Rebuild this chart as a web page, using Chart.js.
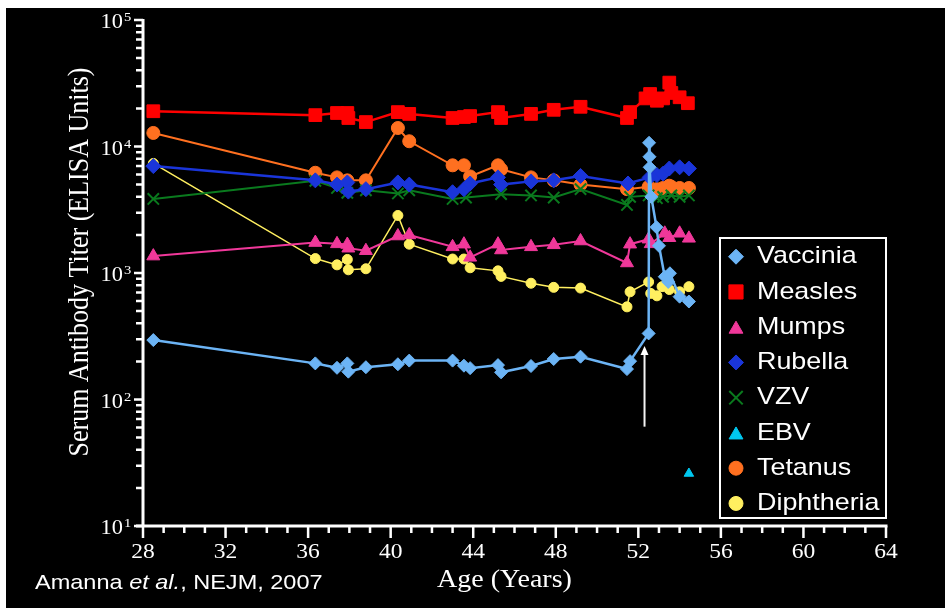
<!DOCTYPE html>
<html>
<head>
<meta charset="utf-8">
<script src="https://cdn.jsdelivr.net/npm/chart.js@4.4.0/dist/chart.umd.min.js"></script>
<style>
  html, body { margin: 0; padding: 0; background: #fff; }
  #wrap { position: relative; width: 951px; height: 616px; }
</style>
</head>
<body>
<div id="wrap"><canvas id="myChart"></canvas></div>
<script>
// series (age in years, titer in ELISA units)
const seriesNames = ["Vaccinia", "Measles", "Mumps", "Rubella", "VZV", "EBV", "Tetanus", "Diphtheria"];

const vacciniaAge = [28.5, 36.35, 37.4, 37.9, 37.95, 38.8, 40.35, 40.9, 43.0, 43.55, 43.85, 45.2, 45.35, 46.8, 47.9, 49.2, 51.45, 51.6,
  52.5, 52.52, 52.54, 52.55, 52.63, 52.88, 53.0, 53.28, 53.45, 53.53, 54.0, 54.45];
const vacciniaTiter = [295, 193, 178, 193, 166, 180, 190, 203, 203, 185, 177, 187, 164, 184, 209, 218, 174, 201,
  333, 10700, 8300, 6850, 4000, 2300, 1640, 935, 850, 995, 650, 595];

const measlesAge = [28.5, 36.35, 37.4, 37.9, 37.95, 38.8, 40.35, 40.9, 43.0, 43.55, 43.85, 45.2, 45.35, 46.8, 47.9, 49.2, 51.45, 51.6,
  52.35, 52.57, 52.9, 53.2, 53.5, 53.6, 54.0, 54.4];
const measlesTiter = [19000, 17700, 18400, 18400, 16800, 15600, 18700, 18100, 16800, 17100, 17400, 18700, 16800, 18100, 19500, 20600, 16800, 18700,
  24000, 26000, 23000, 24000, 32000, 26500, 24500, 22000];

const mumpsAge = [28.5, 36.35, 37.4, 37.9, 37.95, 38.8, 40.35, 40.9, 43.0, 43.55, 43.85, 45.2, 45.35, 46.8, 47.9, 49.2, 51.45, 51.6,
  52.5, 52.6, 53.28, 53.5, 54.0, 54.45];
const mumpsTiter = [1360, 1740, 1700, 1680, 1570, 1500, 1960, 2000, 1610, 1690, 1330, 1690, 1520, 1610, 1670, 1790, 1200, 1690,
  1850, 1700, 2060, 1900, 2060, 1880];

const rubellaAge = [28.5, 36.35, 37.4, 37.9, 37.95, 38.8, 40.35, 40.9, 43.0, 43.55, 43.85, 45.2, 45.35, 46.8, 47.9, 49.2, 51.5,
  52.55, 52.9, 53.2, 53.5, 54.0, 54.45];
const rubellaTiter = [7000, 5400, 5000, 5200, 4400, 4600, 5200, 5000, 4350, 4600, 5100, 5700, 5000, 5300, 5400, 5850, 5100,
  5700, 5950, 6100, 6700, 6850, 6700];

const vzvAge = [28.5, 36.35, 37.4, 37.9, 38.8, 40.35, 40.9, 43.0, 43.65, 45.35, 46.8, 47.9, 49.2, 51.45, 51.6,
  52.5, 52.9, 53.2, 53.6, 54.0, 54.45];
const vzvTiter = [3850, 5350, 4700, 4300, 4500, 4250, 4500, 3850, 3950, 4200, 4100, 3950, 4600, 3450, 4000,
  4100, 3900, 4000, 4100, 4000, 4100];

const ebvAge = [54.45];
const ebvTiter = [26];

const tetanusAge = [28.5, 36.35, 37.4, 37.9, 38.8, 40.35, 40.9, 43.0, 43.55, 43.85, 45.2, 45.35, 46.8, 47.9, 49.2, 51.45,
  52.5, 52.65, 52.9, 53.2, 53.5, 53.6, 54.0, 54.45];
const tetanusTiter = [12800, 6200, 5700, 5400, 5400, 14000, 11000, 7100, 7100, 5800, 7100, 6600, 5700, 5400, 5000, 4600,
  4800, 4500, 4600, 4700, 4900, 4800, 4700, 4700];

const diphtheriaAge = [28.5, 36.35, 37.4, 37.9, 37.95, 38.8, 40.35, 40.9, 43.0, 43.55, 43.85, 45.2, 45.35, 46.8, 47.9, 49.2, 51.45, 51.6,
  52.5, 52.6, 52.9, 53.15, 53.5, 54.0, 54.45];
const diphtheriaTiter = [7350, 1300, 1160, 1280, 1060, 1080, 2850, 1690, 1290, 1290, 1100, 1040, 940, 830, 770, 760, 540, 710,
  850, 690, 660, 780, 740, 710, 780];

const xTicks = [28, 32, 36, 40, 44, 48, 52, 56, 60, 64];
const yTicks = [10, 100, 1000, 10000, 100000];
const arrowAge = 52.3, arrowFrom = 61, arrowTo = 265;

const SX = 1.12; // slide text is a little stretched sideways

function pts(ages, titers) {
  return ages.map((a, i) => ({ x: a, y: titers[i] }));
}

function series(i, ages, titers, color, style, radius, lineW) {
  return {
    label: seriesNames[i],
    data: pts(ages, titers),
    showLine: lineW > 0,
    borderColor: color,
    backgroundColor: color,
    pointBackgroundColor: color,
    pointBorderColor: color,
    pointStyle: style,
    pointRadius: radius,
    pointHoverRadius: radius,
    pointBorderWidth: style === "crossRot" ? 2 : 1,
    borderWidth: lineW,
    tension: 0,
    clip: false
  };
}

const datasets = [
  series(0, vacciniaAge, vacciniaTiter, "#6cb4f5", "rectRot", 6.5, 2.5),
  series(1, measlesAge, measlesTiter, "#ff0000", "rect", 9, 2.5),
  series(2, mumpsAge, mumpsTiter, "#f0389a", "triangle", 7.5, 2),
  series(3, rubellaAge, rubellaTiter, "#1a35d9", "rectRot", 7.5, 2.5),
  series(4, vzvAge, vzvTiter, "#0a7a1e", "crossRot", 8, 2),
  series(5, ebvAge, ebvTiter, "#00c8f0", "triangle", 5.5, 0),
  series(6, tetanusAge, tetanusTiter, "#ff7020", "circle", 6.5, 2),
  series(7, diphtheriaAge, diphtheriaTiter, "#ffef60", "circle", 5, 1.5)
];

const legendRadius = [7.5, 10, 8, 7.5, 9.5, 8, 7, 7];

function text(ctx, str, x, y, font, align) {
  ctx.save();
  ctx.font = font;
  ctx.translate(x, y);
  ctx.scale(SX, 1);
  ctx.textAlign = align;
  ctx.textBaseline = "middle";
  ctx.fillText(str, 0, 0);
  ctx.restore();
}

const slideBg = {
  id: "slideBg",
  beforeDraw(chart) {
    const ctx = chart.ctx;
    ctx.save();
    ctx.fillStyle = "#ffffff";
    ctx.fillRect(0, 0, chart.width, chart.height);
    ctx.fillStyle = "#000000";
    ctx.fillRect(6, 8, 939, 600);
    ctx.restore();
  }
};

const slideAxes = {
  id: "slideAxes",
  afterDraw(chart) {
    const ctx = chart.ctx;
    const xs = chart.scales.x, ys = chart.scales.y;
    const x0 = xs.getPixelForValue(28), x1 = xs.getPixelForValue(64);
    const yTop = ys.getPixelForValue(100000), yBot = ys.getPixelForValue(10);
    ctx.save();
    ctx.strokeStyle = "#fff";
    ctx.fillStyle = "#fff";
    ctx.lineWidth = 3;
    ctx.lineCap = "butt";
    // axis lines
    ctx.beginPath();
    ctx.moveTo(x0, yTop - 1);
    ctx.lineTo(x0, yBot);
    ctx.moveTo(x0 - 7, yBot);
    ctx.lineTo(x1 + 1.5, yBot);
    ctx.stroke();

    // y ticks: decades + minor
    ctx.lineWidth = 2.5;
    ctx.beginPath();
    for (let d = 1; d <= 5; d++) {
      const base = Math.pow(10, d);
      for (let m = 1; m <= 9; m++) {
        const v = base * m;
        if (v > 100000) break;
        const py = ys.getPixelForValue(v);
        ctx.moveTo(x0 - (m === 1 ? 9 : 7), py);
        ctx.lineTo(x0, py);
      }
    }
    // x ticks: every year, longer every 4
    for (let a = 28; a <= 64; a++) {
      const px = xs.getPixelForValue(a);
      ctx.moveTo(px, yBot);
      ctx.lineTo(px, yBot + ((a - 28) % 4 === 0 ? 12 : 7));
    }
    ctx.stroke();

    // y tick labels 10^n
    yTicks.forEach(v => {
      const py = ys.getPixelForValue(v);
      const e = Math.round(Math.log10(v));
      text(ctx, "10", 123, py + 3, "20px 'Liberation Serif'", "right");
      text(ctx, String(e), 124, py - 2, "13px 'Liberation Serif'", "left");
    });
    // x tick labels
    xTicks.forEach(a => {
      text(ctx, String(a), xs.getPixelForValue(a), yBot + 26, "21px 'Liberation Serif'", "center");
    });

    // axis titles
    text(ctx, "Age (Years)", (x0 + x1) / 2 - 10, 580, "25px 'Liberation Serif'", "center");
    ctx.save();
    ctx.translate(80, 262);
    ctx.rotate(-Math.PI / 2);
    ctx.scale(1, SX);
    ctx.font = "26px 'Liberation Serif'";
    ctx.textAlign = "center";
    ctx.textBaseline = "middle";
    ctx.fillText("Serum Antibody Titer (ELISA Units)", 0, 0);
    ctx.restore();

    // citation
    ctx.save();
    ctx.translate(35, 583);
    ctx.scale(SX, 1);
    ctx.textBaseline = "middle";
    ctx.textAlign = "left";
    let cx = 0;
    const parts = [["Amanna ", "21px 'Liberation Sans'"], ["et al.", "italic 21px 'Liberation Sans'"], [", NEJM, 2007", "21px 'Liberation Sans'"]];
    parts.forEach(p => {
      ctx.font = p[1];
      ctx.fillText(p[0], cx, 0);
      cx += ctx.measureText(p[0]).width;
    });
    ctx.restore();

    // arrow marking the boost
    const ax = xs.getPixelForValue(arrowAge);
    const ay0 = ys.getPixelForValue(arrowFrom), ay1 = ys.getPixelForValue(arrowTo);
    ctx.lineWidth = 2;
    ctx.strokeStyle = "#f4f4f4";
    ctx.beginPath();
    ctx.moveTo(ax, ay0);
    ctx.lineTo(ax, ay1 + 6);
    ctx.stroke();
    ctx.beginPath();
    ctx.moveTo(ax, ay1);
    ctx.lineTo(ax - 4, ay1 + 9);
    ctx.lineTo(ax + 4, ay1 + 9);
    ctx.closePath();
    ctx.fill();

    // legend
    const lx = 720, ly = 238, lw = 166, lh = 280;
    ctx.fillStyle = "#000";
    ctx.fillRect(lx, ly, lw, lh);
    ctx.strokeStyle = "#fff";
    ctx.lineWidth = 2;
    ctx.strokeRect(lx, ly, lw, lh);
    chart.data.datasets.forEach((ds, i) => {
      const rowY = 256.7 + i * 35.25;
      ctx.fillStyle = ds.backgroundColor;
      ctx.strokeStyle = ds.borderColor;
      ctx.lineWidth = ds.pointStyle === "crossRot" ? 2 : 1;
      Chart.helpers.drawPoint(ctx, { pointStyle: ds.pointStyle, rotation: 0, radius: legendRadius[i], borderWidth: ctx.lineWidth }, 736, rowY + (ds.pointStyle === "triangle" ? 2 : 0));
      ctx.fillStyle = "#fff";
      text(ctx, ds.label, 757, rowY, "24px 'Liberation Sans'", "left");
    });
    ctx.restore();
  }
};

new Chart(document.getElementById("myChart"), {
  type: "scatter",
  data: { datasets: datasets },
  options: {
    responsive: true,
    maintainAspectRatio: false,
    animation: false,
    layout: { autoPadding: false, padding: { left: 143, right: 65, top: 20, bottom: 90 } },
    plugins: { legend: { display: false }, tooltip: { enabled: false } },
    scales: {
      x: { type: "linear", min: 28, max: 64, display: false },
      y: { type: "logarithmic", min: 10, max: 100000, display: false }
    }
  },
  plugins: [slideBg, slideAxes]
});
</script>
</body>
</html>
